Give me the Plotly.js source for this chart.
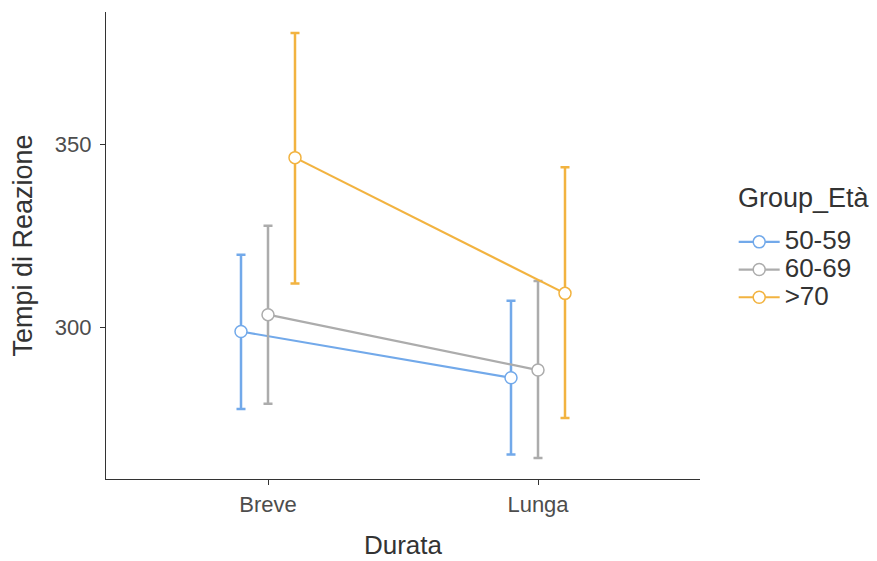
<!DOCTYPE html>
<html>
<head>
<meta charset="utf-8">
<script src="https://cdn.plot.ly/plotly-3.0.1.min.js"></script>
<style>html,body{margin:0;padding:0;background:#fff;}#chart{width:877px;height:561px;}</style>
</head>
<body>
<div id="chart"></div>
<script>
const categories = ["Breve", "Lunga"];
const groups = ["50-59", "60-69", ">70"];
const legendTitle = "Group_Età";
const means = {
  "50-59": [298.9, 286.3],
  "60-69": [303.5, 288.4],
  ">70":   [346.3, 309.3]
};
const upper = {
  "50-59": [319.8, 307.3],
  "60-69": [327.7, 312.7],
  ">70":   [380.3, 343.7]
};
const lower = {
  "50-59": [277.8, 265.4],
  "60-69": [279.2, 264.4],
  ">70":   [312.0, 275.3]
};
const colors = ["#72a9ea", "#acacac", "#f2b340"];
const dodge = [-0.1, 0, 0.1];

const traces = groups.map((g, i) => {
  const xs = categories.map((c, j) => j + 1 + dodge[i]);
  return {
    type: "scatter",
    mode: "lines+markers",
    name: '<span style="font-size:26px">' + g.replace(">", "&gt;") + '</span>',
    x: xs,
    y: means[g],
    line: {color: colors[i], width: 2.2},
    marker: {size: 12, color: "#ffffff", line: {color: colors[i], width: 1.5}},
    error_y: {
      type: "data",
      symmetric: false,
      array: means[g].map((m, j) => upper[g][j] - m),
      arrayminus: means[g].map((m, j) => m - lower[g][j]),
      color: colors[i],
      thickness: 2.5,
      width: 4.5
    }
  };
});

const layout = {
  width: 877,
  height: 561,
  margin: {l: 106, r: 177, t: 12, b: 82},
  paper_bgcolor: "#ffffff",
  plot_bgcolor: "#ffffff",
  font: {family: "Liberation Sans, Arial, sans-serif", color: "#4d4d4d"},
  showlegend: true,
  legend: {
    font: {size: 19, color: "#333333"},
    x: 1.0567, xanchor: "left",
    y: 0.4475, yanchor: "middle",
    itemwidth: 41,
    tracegroupgap: 0
  },
  annotations: [{
    text: legendTitle,
    xref: "paper", yref: "paper",
    x: 1.0606, y: 0.6017,
    xanchor: "left", yanchor: "middle",
    showarrow: false,
    font: {size: 27, color: "#333333"}
  }],
  xaxis: {
    range: [0.4, 2.6],
    tickvals: [1, 2],
    ticktext: categories,
    showgrid: false,
    zeroline: false,
    showline: true,
    linecolor: "#333333",
    linewidth: 1.2,
    ticks: "outside",
    ticklen: 5,
    tickcolor: "#333333",
    tickfont: {size: 22, color: "#4d4d4d"},
    title: {text: "Durata", font: {size: 26, color: "#333333"}, standoff: 20}
  },
  yaxis: {
    range: [258.7, 386.0],
    tickvals: [300, 350],
    showgrid: false,
    zeroline: false,
    showline: true,
    linecolor: "#333333",
    linewidth: 1.2,
    ticks: "outside",
    ticklen: 5,
    tickcolor: "#333333",
    ticklabelstandoff: 4,
    tickfont: {size: 22, color: "#4d4d4d"},
    title: {text: "Tempi di Reazione", font: {size: 27, color: "#333333"}, standoff: 14}
  }
};

Plotly.newPlot("chart", traces, layout, {displayModeBar: false, staticPlot: true});
</script>
</body>
</html>
